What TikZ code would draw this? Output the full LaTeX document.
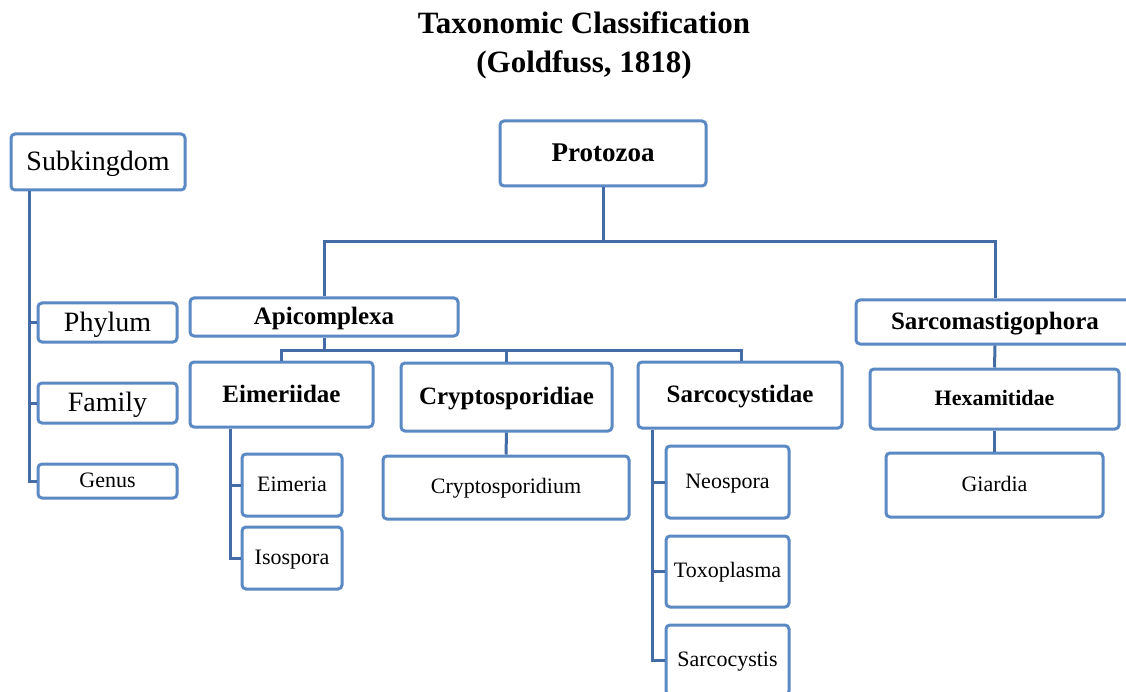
\documentclass[tikz,border=0pt]{standalone}
\usepackage{fontspec}
\setmainfont{Liberation Serif}
\definecolor{boxblue}{RGB}{90,137,196}
\definecolor{linkblue}{RGB}{68,108,164}
\begin{document}
\begin{tikzpicture}[x=1pt,y=-1pt,
  box/.style={draw=boxblue,line width=3pt,rounded corners=4pt,fill=white,inner sep=0pt,align=center,text depth=0.5ex},
  conn/.style={draw=linkblue,line width=3pt},
  big/.style={font=\fontsize{28}{32}\selectfont},
  bold/.style={font=\fontsize{25}{30}\selectfont\bfseries},
  boldsm/.style={font=\fontsize{22}{26}\selectfont\bfseries},
  leaf/.style={font=\fontsize{22}{26}\selectfont}]
\useasboundingbox (0,0) rectangle (1126,692);
\clip (0,0) rectangle (1126,692);
% title
\node[font=\fontsize{31}{39}\selectfont\bfseries,align=center] (title) at (584,45) {Taxonomic Classification\\(Goldfuss, 1818)};
% connectors level 1
\coordinate (j1) at (603,242);
\coordinate (j2) at (0,350);
\coordinate (eimtop) at (281,0);
\coordinate (sarcytop) at (741,0);
\coordinate (lx) at (29,0);
\coordinate (ex) at (230,0);
\coordinate (sx) at (652,0);
% legend
\node[box,big,minimum width=174pt,minimum height=56pt] (sub) at (98,162) {Subkingdom};
\node[box,big,minimum width=139pt,minimum height=39pt] (phy) at (107.5,322.5) {Phylum};
\node[box,big,minimum width=139pt,minimum height=40pt] (fam) at (107.5,403) {Family};
\node[box,leaf,minimum width=139pt,minimum height=34pt] (gen) at (107.5,481) {Genus};
\draw[conn] (sub.south -| lx) -- (gen.west -| lx) -- (gen.west);
\draw[conn] (phy.west -| lx) -- (phy.west);
\draw[conn] (fam.west -| lx) -- (fam.west);
% tree
\node[box,font=\fontsize{27}{30}\selectfont\bfseries,minimum width=206pt,minimum height=65pt] (proto) at (603,153.5) {Protozoa};
\node[box,bold,minimum width=268pt,minimum height=38pt] (apic) at (324,317) {Apicomplexa};
\node[box,bold,minimum width=278pt,minimum height=44pt] (sarcm) at (995,322) {Sarcomastigophora};
\node[box,bold,minimum width=183pt,minimum height=65pt] (eim) at (281.5,394.5) {Eimeriidae};
\node[box,bold,minimum width=211pt,minimum height=68pt] (cryp) at (506.5,397) {Cryptosporidiae};
\node[box,bold,minimum width=204pt,minimum height=66pt] (sarcy) at (740,395) {Sarcocystidae};
\node[box,boldsm,minimum width=249pt,minimum height=60pt] (hex) at (994.5,399) {Hexamitidae};
\node[box,leaf,minimum width=217pt,minimum height=64pt] (giar) at (994.5,485) {Giardia};
\node[box,leaf,minimum width=100pt,minimum height=62pt] (eimr) at (292,485) {Eimeria};
\node[box,leaf,minimum width=100pt,minimum height=62pt] (iso) at (292,558) {Isospora};
\node[box,leaf,minimum width=246pt,minimum height=63pt] (crypt) at (506,487.5) {Cryptosporidium};
\node[box,leaf,minimum width=123pt,minimum height=72pt] (neo) at (727.5,482) {Neospora};
\node[box,leaf,minimum width=123pt,minimum height=71pt] (toxo) at (727.5,571.5) {Toxoplasma};
\node[box,leaf,minimum width=123pt,minimum height=70pt] (sarcs) at (727.5,660) {Sarcocystis};
\draw[conn] (proto.south) -- (j1);
\draw[conn] (apic.north) -- (apic.north |- j1) -- (sarcm.north |- j1) -- (sarcm.north);
% Apicomplexa families
\draw[conn] (apic.south) -- (apic.south |- j2);
\draw[conn] (eim.north -| eimtop) -- (eimtop |- j2) -- (sarcytop |- j2) -- (sarcy.north -| sarcytop);
\draw[conn] (cryp.north) -- (cryp.north |- j2);
% Sarcomastigophora
\draw[conn] (sarcm.south) -- (hex.north);
\draw[conn] (hex.south) -- (giar.north);
\draw[conn] (cryp.south) -- (crypt.north);
% Eimeriidae genera
\draw[conn] (eim.south -| ex) -- (iso.west -| ex) -- (iso.west);
\draw[conn] (eimr.west -| ex) -- (eimr.west);
% Sarcocystidae genera
\draw[conn] (sarcy.south -| sx) -- (sarcs.west -| sx) -- (sarcs.west);
\draw[conn] (neo.west -| sx) -- (neo.west);
\draw[conn] (toxo.west -| sx) -- (toxo.west);
\end{tikzpicture}
\end{document}
